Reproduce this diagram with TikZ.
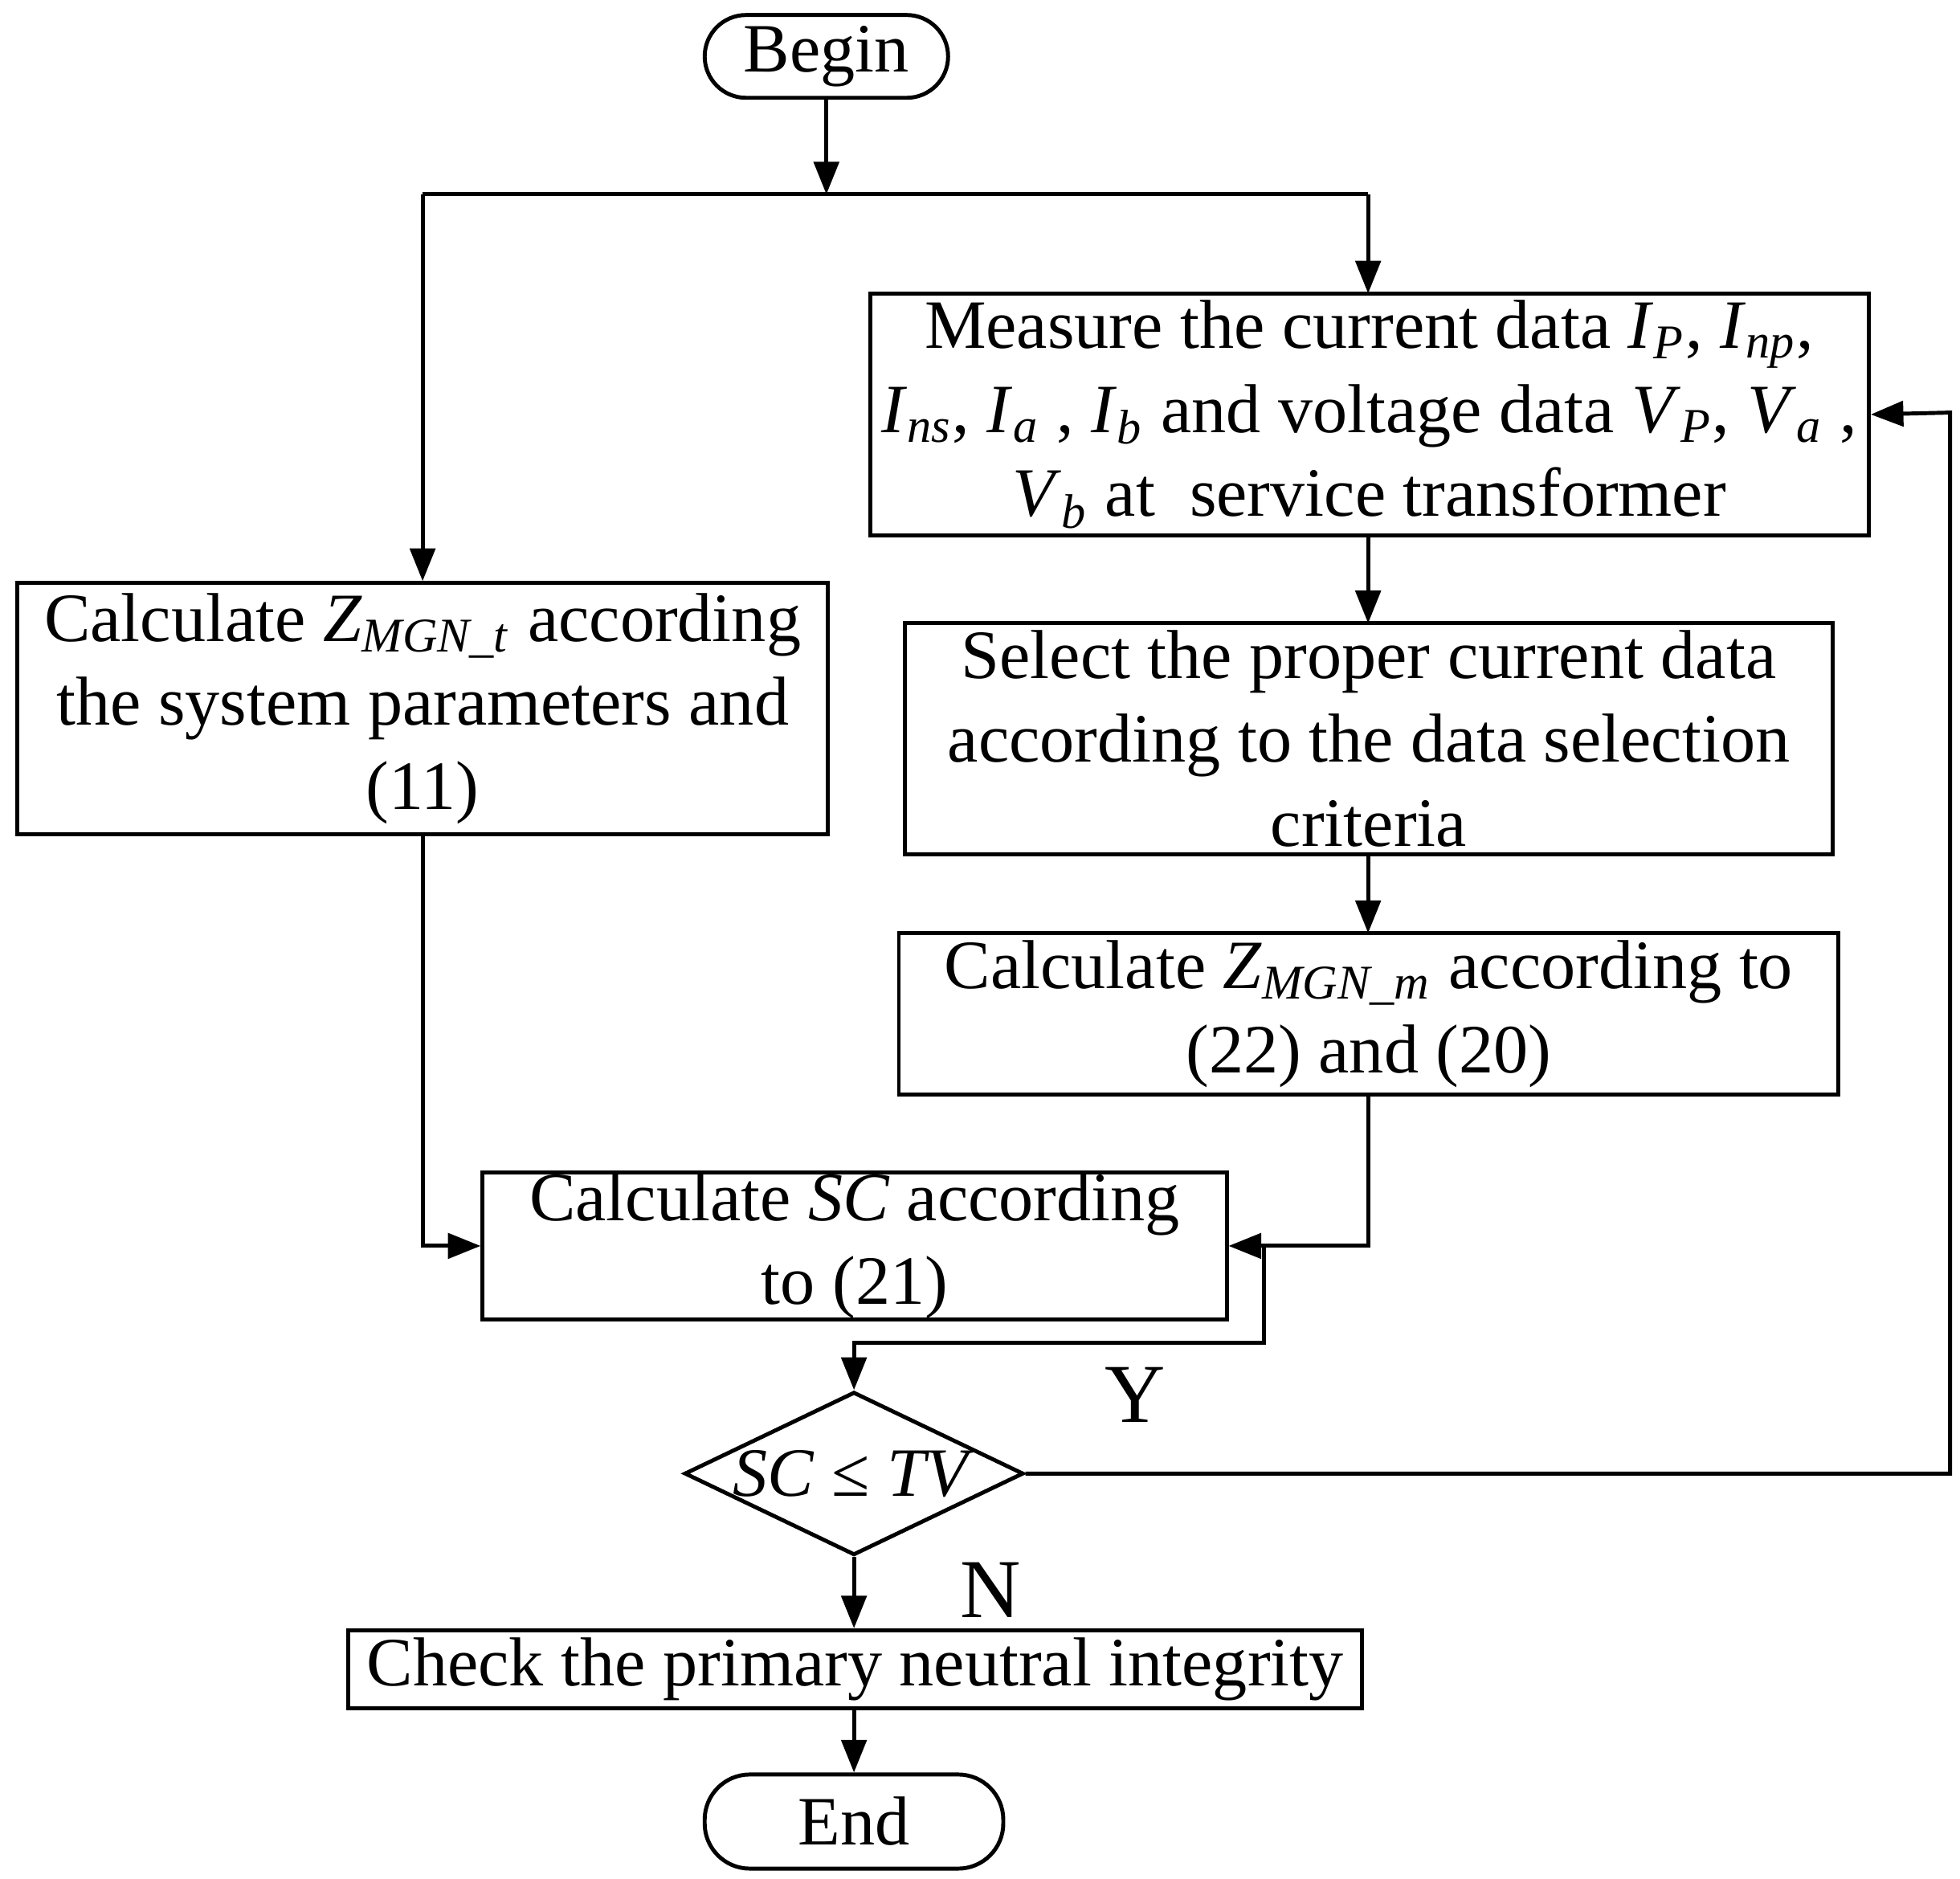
\documentclass[tikz,border=0pt]{standalone}
\usepackage{fontspec}
\setmainfont{Liberation Serif}
\usetikzlibrary{arrows.meta,shapes.geometric}
\newcommand{\sym}[2]{\textit{#1}\textsubscript{\textit{#2}}}
\begin{document}
\begin{tikzpicture}[x=0.01cm,y=-0.01cm,
  every node/.style={font=\fontsize{15.7pt}{19pt}\selectfont,inner sep=0pt,align=center},
  box/.style={draw,line width=0.9pt},
  ln/.style={line width=0.9pt},
  ar/.style={ln,-{Triangle[length=0.26cm,width=0.2cm]}}]
\useasboundingbox (0,0) rectangle (1563,1498);
\node[box,rounded corners=0.33cm,minimum width=1.94cm,minimum height=0.66cm] (begin) at (659,45) {Begin};
\node[box,minimum width=7.96cm,minimum height=1.93cm] (meas) at (1092,330.5) {Measure the current data \sym{I}{P}, \sym{I}{np},\\ \sym{I}{ns}, \sym{I}{a} , \sym{I}{b} and voltage data \sym{V}{P}, \sym{V}{a} ,\\ \sym{V}{b} at\ \ service transformer};
\node[box,minimum width=7.39cm,minimum height=1.84cm] (sel) at (1091.5,589) {Select the proper current data\\ according to the data selection\\ criteria};
\node[box,minimum width=7.49cm,minimum height=1.29cm] (zm) at (1091.5,808.5) {Calculate \sym{Z}{MGN\_m} according to\\ (22) and (20)};
\node[box,minimum width=6.46cm,minimum height=2.0cm] (zt) at (337,565) {Calculate \sym{Z}{MGN\_t} according\\ the system parameters and\\ (11)};
\node[box,minimum width=5.93cm,minimum height=1.15cm] (sc) at (681.5,993.5) {Calculate \textit{SC} according\\ to (21)};
\node[draw,ln,diamond,minimum width=2.7cm,minimum height=1.3cm,aspect=2.08] (dec) at (681,1175) {\textit{SC} ≤ \textit{TV}};
\node[box,minimum width=8.08cm,minimum height=0.62cm] (chk) at (682,1331) {Check the primary neutral integrity};
\node[box,rounded corners=0.36cm,minimum width=2.38cm,minimum height=0.75cm] (end) at (681,1452.5) {End};
\node (y) at (905,1112) {\fontsize{19pt}{19pt}\selectfont Y};
\node (n) at (790,1268) {\fontsize{19pt}{19pt}\selectfont N};
\coordinate (s) at (659,155);
\draw[ar] (begin) -- (s);
\draw[ln] (337,155) -- (1091,155);
\draw[ar] (337,155) -- (zt.north);
\draw[ar] (1091,155) -- (1091,234);
\draw[ar] (1091,427) -- (1091,497);
\draw[ar] (1091,681) -- (1091,744);
\draw[ar] (zt.south) |- (sc.west);
\draw[ar] (1091,873) |- (sc.east);
\draw[ar] (1008,993) -- (1008,1071) -- (681,1071) -- (dec.north);
\draw[ar] (dec.east) -- (1555,1175) -- (1555,329) -- (meas.east);
\draw[ar] (dec.south) -- (chk.north-|dec.south);
\draw[ar] (681,1362) -- (end.north);
\end{tikzpicture}
\end{document}
